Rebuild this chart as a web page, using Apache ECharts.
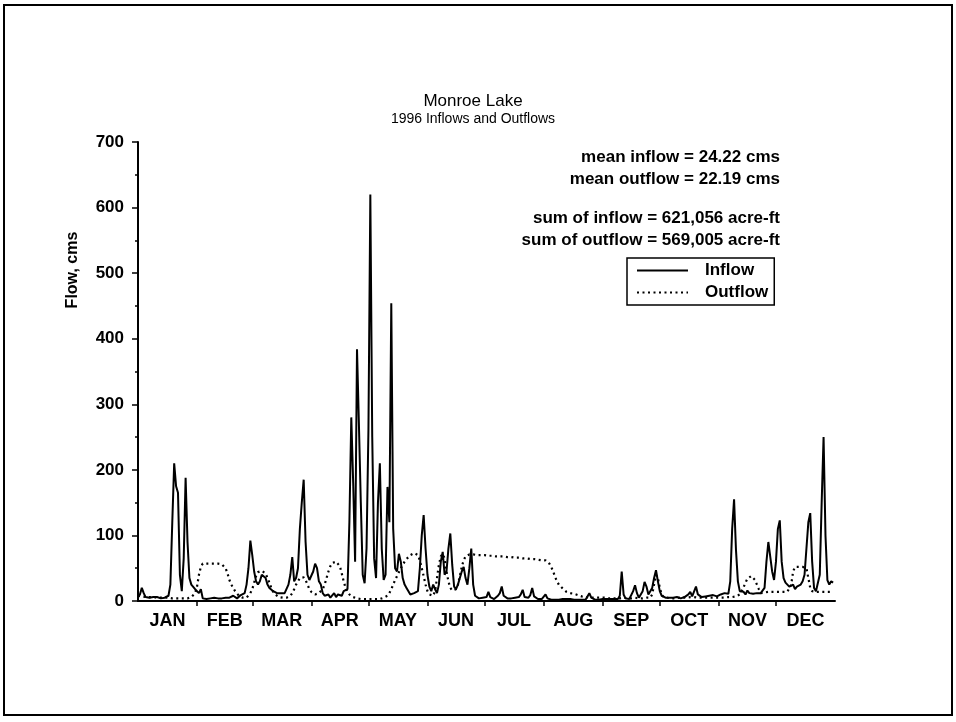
<!DOCTYPE html>
<html>
<head>
<meta charset="utf-8">
<script src="https://cdn.jsdelivr.net/npm/echarts@6/dist/echarts.min.js"></script>
<style>
  html, body { margin: 0; background: #fff; }
  #chart { width: 956px; height: 722px; }
</style>
</head>
<body>
<div id="chart"></div>
<script>
var months = ['JAN', 'FEB', 'MAR', 'APR', 'MAY', 'JUN', 'JUL', 'AUG', 'SEP', 'OCT', 'NOV', 'DEC'];
// day of year (1996, leap year) where each month starts, plus year end
var monthStarts = [0, 31, 60, 91, 121, 152, 182, 213, 244, 274, 305, 335, 366];

// daily inflow, cms
var inflow = [
  // Jan
  6, 10, 20, 12, 6, 8, 5, 7, 6, 5, 6, 5, 4, 5, 5, 6, 8, 25, 120, 210, 175, 165, 40, 15, 65, 188, 90, 35, 25, 28, 18,
  // Feb
  20, 12, 18, 4, 2, 3, 2, 4, 3, 5, 3, 4, 6, 4, 7, 5, 3, 5, 4, 8, 6, 4, 7, 9, 6, 12, 25, 50, 92,
  // Mar
  70, 45, 30, 25, 30, 40, 43, 35, 25, 20, 18, 15, 12, 12, 10, 12, 10, 12, 15, 25, 40, 67, 30, 35, 50, 110, 150, 185, 90, 40, 32,
  // Apr
  30, 45, 57, 50, 30, 25, 12, 8, 6, 10, 5, 8, 12, 6, 10, 12, 8, 15, 12, 18, 120, 280, 180, 60, 384, 270, 150, 40, 27, 80,
  // May
  260, 620, 250, 65, 35, 150, 210, 80, 32, 40, 174, 120, 454, 110, 50, 45, 72, 60, 35, 25, 20, 15, 10, 8, 12, 10, 15, 50, 100, 131, 80,
  // Jun
  40, 22, 15, 25, 18, 12, 25, 60, 75, 40, 45, 80, 103, 55, 22, 18, 25, 35, 45, 52, 35, 25, 50, 80, 25, 8, 5, 4, 3, 5,
  // Jul
  5, 6, 14, 6, 4, 3, 5, 8, 12, 22, 8, 5, 4, 3, 4, 3, 5, 4, 6, 10, 17, 6, 4, 5, 9, 20, 7, 4, 3, 4, 3,
  // Aug
  4, 10, 4, 3, 2, 3, 2, 3, 2, 2, 3, 2, 3, 2, 3, 2, 2, 3, 2, 3, 2, 3, 2, 4, 12, 5, 3, 2, 3, 2, 3,
  // Sep
  3, 2, 3, 2, 3, 2, 3, 2, 3, 8, 45, 10, 4, 3, 3, 4, 15, 24, 12, 5, 4, 15, 29, 22, 10, 8, 20, 35, 47, 30,
  // Oct
  15, 8, 6, 5, 4, 5, 4, 5, 4, 6, 5, 4, 5, 6, 8, 10, 14, 7, 9, 22, 10, 7, 6, 8, 7, 6, 8, 7, 9, 8, 7,
  // Nov
  8, 10, 9, 12, 10, 11, 30, 110, 155, 78, 30, 15, 12, 14, 10, 16, 12, 15, 11, 14, 12, 10, 12, 14, 20, 60, 90, 92, 45, 32,
  // Dec
  60, 110, 123, 60, 35, 28, 25, 22, 20, 25, 18, 22, 20, 25, 30, 40, 80, 120, 134, 60, 20, 15, 12, 40, 150, 250, 100, 32, 25, 30, 28
];

// daily outflow, cms
var outflow = [
  // Jan
  8, 8, 7, 7, 6, 6, 6, 6, 6, 5, 5, 5, 5, 5, 5, 5, 5, 4, 4, 4, 4, 4, 4, 4, 4, 4, 4, 5, 6, 8, 12,
  // Feb
  22, 40, 52, 57, 57, 57, 57, 57, 57, 57, 57, 57, 57, 56, 55, 50, 42, 32, 25, 20, 15, 12, 8, 6, 5, 5, 5, 8, 12,
  // Mar
  18, 28, 38, 44, 46, 46, 45, 42, 35, 28, 20, 14, 10, 8, 6, 5, 5, 5, 5, 6, 8, 12, 18, 25, 30, 35, 37, 36, 32, 25, 18,
  // Apr
  14, 12, 10, 10, 12, 15, 18, 25, 35, 45, 53, 58, 60, 60, 58, 53, 42, 30, 20, 14, 10, 8, 6, 5, 4, 4, 3, 3, 3, 3,
  // May
  3, 3, 3, 3, 3, 3, 3, 4, 5, 6, 8, 12, 18, 25, 32, 38, 44, 50, 55, 60, 64, 67, 70, 72, 73, 73, 70, 62, 50, 38, 25,
  // Jun
  15, 10, 8, 8, 15, 35, 55, 68, 72, 65, 45, 30, 20, 16, 15, 18, 25, 38, 52, 62, 68, 70, 71, 71, 71, 70, 70, 70, 70, 70,
  // Jul
  70, 70, 69, 69, 69, 69, 68, 68, 68, 68, 68, 67, 67, 67, 67, 66, 66, 66, 66, 65, 65, 65, 65, 64, 64, 64, 64, 63, 63, 63, 62,
  // Aug
  62, 62, 60, 57, 52, 45, 37, 30, 25, 22, 19, 16, 14, 13, 12, 12, 11, 10, 9, 8, 7, 6, 6, 5, 5, 5, 5, 5, 5, 5, 5,
  // Sep
  5, 5, 5, 4, 4, 4, 4, 4, 4, 4, 5, 5, 4, 4, 4, 4, 5, 5, 5, 4, 4, 4, 5, 5, 5, 5, 10, 25, 40, 35,
  // Oct
  20, 10, 6, 5, 5, 5, 4, 4, 4, 5, 5, 5, 5, 5, 5, 5, 6, 6, 6, 6, 5, 5, 5, 5, 5, 5, 5, 5, 5, 5, 5,
  // Nov
  5, 5, 5, 5, 5, 6, 6, 6, 6, 7, 8, 10, 12, 21, 28, 34, 37, 38, 37, 32, 25, 18, 12, 12, 13, 14, 14, 14, 14, 14,
  // Dec
  14, 14, 14, 14, 14, 14, 14, 14, 25, 45, 52, 52, 52, 52, 52, 52, 50, 35, 20, 15, 14, 14, 14, 14, 14, 14, 14, 14, 14, 14, 14
];

var stats = [
  'mean inflow = 24.22 cms',
  'mean outflow = 22.19 cms',
  'sum of inflow = 621,056 acre-ft',
  'sum of outflow = 569,005 acre-ft'
];

var FONT = '"Liberation Sans", Arial, Helvetica, sans-serif';

// month labels sit in the middle of each month, ticks on the boundaries
var monthMids = [];
for (var i = 0; i < 12; i++) monthMids.push((monthStarts[i] + monthStarts[i + 1]) / 2);
var monthTicks = monthStarts.slice(1, 12);

function toPairs(arr) {
  return arr.map(function (v, d) { return [d, v]; });
}

function statText(txt, y) {
  return {
    type: 'text', x: 780, y: y,
    style: { text: txt, align: 'right', verticalAlign: 'middle', font: 'bold 17px ' + FONT, fill: '#000' }
  };
}

var myChart = echarts.init(document.getElementById('chart'));

var option = {
  backgroundColor: '#fff',
  animation: false,
  title: {
    text: '{a|Monroe Lake}\n{b|1996 Inflows and Outflows}',
    left: 468,
    top: 87,
    textAlign: 'center',
    textStyle: {
      fontWeight: 'normal',
      rich: {
        a: { fontFamily: FONT, fontWeight: 'normal', fontSize: 17, lineHeight: 18, color: '#000', align: 'center' },
        b: { fontFamily: FONT, fontWeight: 'normal', fontSize: 14, lineHeight: 18, color: '#000', align: 'center' }
      }
    }
  },
  legend: {
    orient: 'vertical',
    left: 627,
    top: 258,
    padding: [4, 6, 4, 9],
    itemWidth: 51,
    itemHeight: 12,
    itemGap: 5,
    borderColor: '#000',
    borderWidth: 1.5,
    selectedMode: false,
    data: ['Inflow', 'Outflow'],
    itemStyle: { opacity: 0 },
    textStyle: {
      fontFamily: FONT,
      fontWeight: 'bold',
      fontSize: 17,
      color: '#000',
      padding: [0, 0, 0, 12]
    }
  },
  grid: {
    left: 138,
    right: 121,
    top: 142,
    bottom: 121
  },
  xAxis: {
    type: 'value',
    min: 0,
    max: 366,
    splitLine: { show: false },
    axisLine: { lineStyle: { color: '#000', width: 2 } },
    axisTick: {
      customValues: monthTicks,
      length: 5,
      lineStyle: { color: '#000', width: 1.5 }
    },
    axisLabel: {
      customValues: monthMids,
      margin: 11,
      fontFamily: FONT,
      fontWeight: 'bold',
      fontSize: 18,
      color: '#000',
      formatter: function (v) {
        return months[monthMids.indexOf(v)] || '';
      }
    }
  },
  yAxis: {
    type: 'value',
    min: 0,
    max: 700,
    interval: 100,
    splitLine: { show: false },
    axisLine: { show: true, lineStyle: { color: '#000', width: 2 } },
    axisTick: { length: 6, lineStyle: { color: '#000', width: 1.5 } },
    minorTick: { show: true, splitNumber: 2, length: 3, lineStyle: { color: '#000', width: 1.5 } },
    axisLabel: {
      margin: 14,
      fontFamily: FONT,
      fontWeight: 'bold',
      fontSize: 17,
      color: '#000'
    }
  },
  series: [{
    name: 'Inflow',
    type: 'line',
    data: toPairs(inflow),
    showSymbol: false,
    symbol: 'none',
    lineStyle: { color: '#000', width: 2 },
    itemStyle: { color: '#000' },
    z: 3
  }, {
    name: 'Outflow',
    type: 'line',
    data: toPairs(outflow),
    showSymbol: false,
    symbol: 'none',
    lineStyle: { color: '#000', width: 2.2, type: [2, 3.5] },
    itemStyle: { color: '#000' },
    z: 2
  }],
  graphic: [
    {
      type: 'rect',
      shape: { x: 4, y: 5, width: 948, height: 710 },
      style: { fill: 'none', stroke: '#000', lineWidth: 2 },
      silent: true
    },
    {
      type: 'text',
      x: 73,
      y: 270,
      rotation: Math.PI / 2,
      style: {
        text: 'Flow, cms',
        align: 'center',
        verticalAlign: 'middle',
        font: 'bold 16px ' + FONT,
        fill: '#000'
      }
    },
    statText(stats[0], 157),
    statText(stats[1], 179),
    statText(stats[2], 218),
    statText(stats[3], 240)
  ]
};

myChart.setOption(option);
</script>
</body>
</html>
